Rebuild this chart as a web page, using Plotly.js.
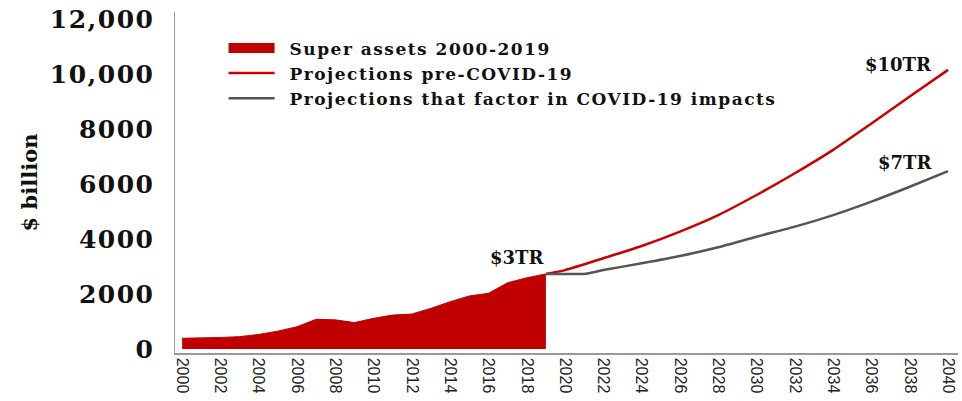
<!DOCTYPE html>
<html>
<head>
<meta charset="utf-8">
<script src="https://cdn.plot.ly/plotly-3.0.1.min.js"></script>
<style>
html,body{margin:0;padding:0;background:#fff;}
#chart{width:962px;height:401px;}
.legendtext{letter-spacing:1.5px;}
#chart .legendtext{transform:translateX(10px);}
#chart .legend .scrollbox{clip-path:none !important;}
.ytick text{letter-spacing:1.5px;}
</style>
</head>
<body>
<div id="chart"></div>
<script>
// Historical super assets ($ billion)
const histYears = [2000,2001,2002,2003,2004,2005,2006,2007,2008,2009,2010,2011,2012,2013,2014,2015,2016,2017,2018,2019];
const histValues = [390,400,420,450,530,650,810,1080,1060,960,1115,1235,1270,1480,1720,1930,2025,2410,2590,2730];

// Projections pre-COVID-19
const preYears = [2019,2020,2022,2024,2026,2028,2030,2032,2034,2036,2038,2040];
const preValues = [2730,2870,3300,3745,4270,4870,5600,6390,7240,8200,9180,10150];

// Projections that factor in COVID-19 impacts
const covidYears = [2019,2020,2021,2022,2024,2026,2028,2030,2032,2034,2036,2038,2040];
const covidValues = [2730,2730,2730,2870,3115,3380,3700,4085,4450,4870,5360,5900,6470];

// Axis ticks
const xTickVals = [2000,2002,2004,2006,2008,2010,2012,2014,2016,2018,2020,2022,2024,2026,2028,2030,2032,2034,2036,2038,2040];
const yTickVals = [0,2000,4000,6000,8000,10000,12000];
const yTickText = ["0","2000","4000","6000","8000","10,000","12,000"];

// End labels
const labelText = ["$3TR","$10TR","$7TR"];
const labelX = [2017.5,2037.4,2037.75];
const labelY = [3345,10330,6800];

const RED = "#c00000";
const RED_LINE = "#cc0000";
const GREY = "#555555";
const SERIF = "DejaVu Serif, serif";

const traces = [
  {
    x: histYears, y: histValues, type: "scatter", mode: "lines",
    fill: "tozeroy", fillcolor: RED, line: {color: RED, width: 1},
    name: "Super assets 2000-2019", showlegend: false, hoverinfo: "x+y"
  },
  {
    x: [null], y: [null], type: "scatter", mode: "lines",
    line: {color: RED, width: 17},
    name: "Super assets 2000-2019", showlegend: true
  },
  {
    x: preYears, y: preValues, type: "scatter", mode: "lines",
    line: {color: RED_LINE, width: 2.5, shape: "spline", smoothing: 0.6},
    name: "Projections pre-COVID-19"
  },
  {
    x: covidYears, y: covidValues, type: "scatter", mode: "lines",
    line: {color: GREY, width: 2.5, shape: "spline", smoothing: 0.6},
    name: "Projections that factor in COVID-19 impacts"
  }
];

const annotations = labelText.map((t, i) => ({
  x: labelX[i], y: labelY[i], xref: "x", yref: "y",
  text: t, showarrow: false,
  font: {family: SERIF, size: 18, color: "#111", weight: "bold"}
}));

const layout = {
  width: 962, height: 401,
  margin: {l: 175, r: 4, t: 12, b: 48},
  paper_bgcolor: "#fff", plot_bgcolor: "#fff",
  showlegend: true,
  legend: {
    x: 0.062, y: 0.946, xanchor: "left", yanchor: "top",
    bgcolor: "rgba(0,0,0,0)", itemwidth: 46, tracegroupgap: 0,
    font: {family: SERIF, size: 17, color: "#111", weight: "bold"}
  },
  xaxis: {
    range: [1999.63, 2040.52],
    tickvals: xTickVals, tickangle: 90,
    showgrid: false, zeroline: false,
    showline: true, linecolor: "#999999", linewidth: 1.5,
    ticks: "",
    tickfont: {family: "Liberation Sans, Arial, sans-serif", size: 16, color: "#222"}
  },
  yaxis: {
    range: [-145, 12255],
    tickvals: yTickVals, ticktext: yTickText,
    showgrid: false, zeroline: false,
    showline: true, linecolor: "#999999", linewidth: 1.5,
    ticks: "", ticklabelstandoff: 14,
    tickfont: {family: SERIF, size: 25, color: "#111", weight: "bold"},
    title: {text: "$ billion", standoff: 6,
      font: {family: SERIF, size: 21, color: "#111", weight: "bold"}}
  },
  annotations: annotations
};

Plotly.newPlot("chart", traces, layout, {staticPlot: true, displayModeBar: false});
</script>
</body>
</html>
